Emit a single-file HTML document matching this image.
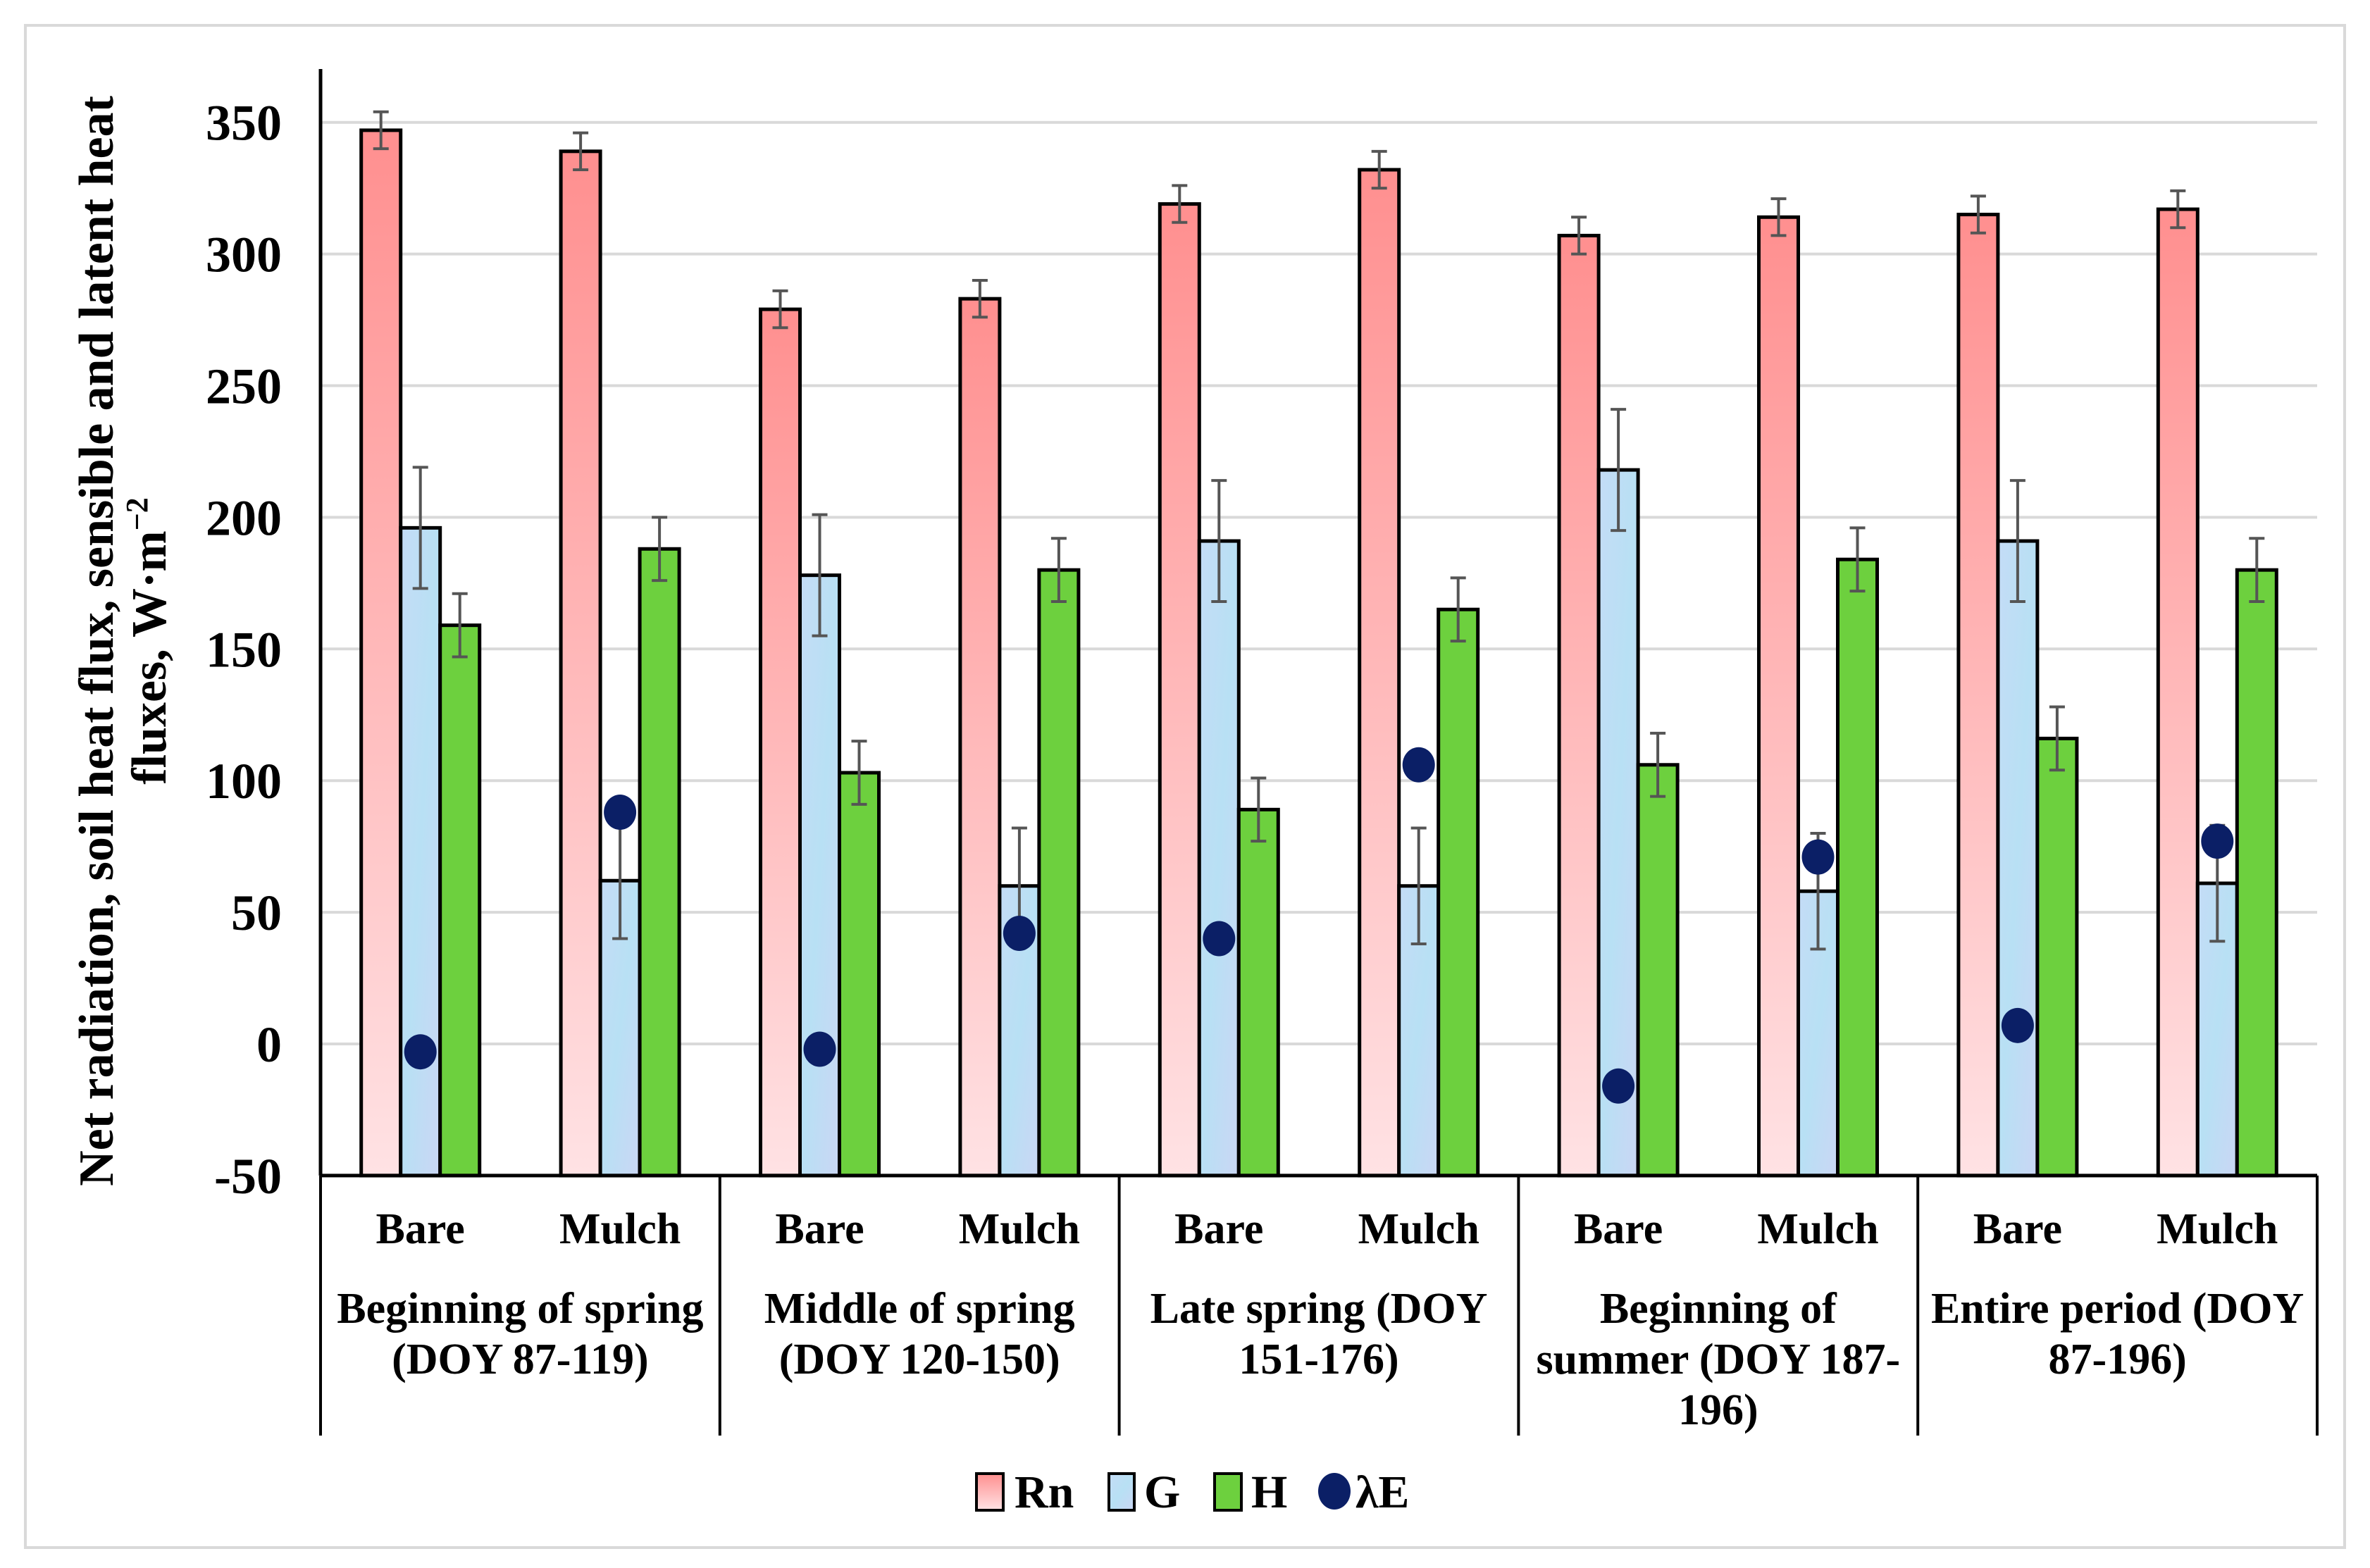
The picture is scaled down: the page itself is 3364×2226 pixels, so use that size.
<!DOCTYPE html>
<html><head><meta charset="utf-8"><style>
html,body{margin:0;padding:0;background:#fff}
svg{display:block}
svg text{font-family:"Liberation Serif","Times New Roman",Times,serif;font-weight:bold;fill:#000}
</style></head><body>
<svg id="chart" width="3364" height="2226" viewBox="0 0 3364 2226" font-family="Liberation Serif, Times New Roman, serif" font-weight="bold">
<defs>
<linearGradient id="rnGrad" x1="0" y1="0" x2="0" y2="1"><stop offset="0" stop-color="#ff8f8f"/><stop offset="1" stop-color="#ffe2e4"/></linearGradient>
<linearGradient id="gGrad" x1="0" y1="0" x2="1" y2="1"><stop offset="0" stop-color="#c4dcf6"/><stop offset="0.5" stop-color="#b8e0f4"/><stop offset="1" stop-color="#cad6f4"/></linearGradient>
</defs>
<rect x="36" y="36" width="3292" height="2161" fill="#fff" stroke="#d9d9d9" stroke-width="4"/>
<g id="grid"></g>
<g id="bars"></g>
<g id="axes"></g>
<text transform="translate(160,910) rotate(-90)" text-anchor="middle" font-size="70">Net radiation, soil heat flux, sensible and latent heat</text>
<text transform="translate(235,910) rotate(-90)" text-anchor="middle" font-size="70">fluxes, W·m<tspan dy="-26" font-size="44">−2</tspan></text>
<g>
<rect x="1386" y="2092" width="38" height="52" fill="url(#rnGrad)" stroke="#000" stroke-width="4"/>
<text x="1440" y="2140" font-size="66">Rn</text>
<rect x="1574" y="2092" width="36" height="52" fill="url(#gGrad)" stroke="#000" stroke-width="4"/>
<text x="1624" y="2140" font-size="66">G</text>
<rect x="1724" y="2092" width="38" height="52" fill="#6dd03e" stroke="#000" stroke-width="4"/>
<text x="1776" y="2140" font-size="66">H</text>
<ellipse cx="1894" cy="2117" rx="23" ry="26" fill="#0b1f66"/>
<text x="1924" y="2140" font-size="66">λE</text>
</g>
</svg>
<script>
const periods = [["Beginning of spring","(DOY 87-119)"],["Middle of spring","(DOY 120-150)"],["Late spring  (DOY","151-176)"],["Beginning of","summer (DOY 187-","196)"],["Entire period  (DOY","87-196)"]];
const treatments = ["Bare","Mulch"];
const rnValues = [347,339,279,283,319,332,307,314,315,317];
const rnErr = [7,7,7,7,7,7,7,7,7,7];
const gValues = [196,62,178,60,191,60,218,58,191,61];
const gErr = [23,22,23,22,23,22,23,22,23,22];
const hValues = [159,188,103,180,89,165,106,184,116,180];
const hErr = [12,12,12,12,12,12,12,12,12,12];
const leValues = [-3,88,-2,42,40,106,-16,71,7,77];
const yTicks = [-50,0,50,100,150,200,250,300,350];

const NS="http://www.w3.org/2000/svg";
const X0=455, X1=3289, YTOP=174, Y0=1482, STEP=186.9;
function y(v){return Y0-(v/50)*STEP;}
const groupW=(X1-X0)/periods.length;
function xc(i){const g=Math.floor(i/2), t=i%2; return X0+g*groupW+groupW*(t===0?0.25:0.75);}
const BW=56;
function mk(tag,attrs,parent){const e=document.createElementNS(NS,tag);for(const k in attrs)e.setAttribute(k,attrs[k]);parent.appendChild(e);return e;}
const grid=document.getElementById('grid'), bars=document.getElementById('bars'), axes=document.getElementById('axes');
yTicks.forEach(v=>{
  if(v>-50){const l=mk('line',{x1:X0,x2:X1,y1:y(v),y2:y(v),stroke:'#d9d9d9','stroke-width':4},grid);
  
  }
  const t=mk('text',{x:400,y:y(v)+25,'text-anchor':'end','font-size':72},grid);
  t.textContent=v;
  
  
});
function errBar(cx,top,e,name){
  const g=mk('g',{stroke:'#555','stroke-width':4},bars);
  
  
  mk('line',{x1:cx,x2:cx,y1:y(top+e),y2:y(top-e)},g);
  mk('line',{x1:cx-11,x2:cx+11,y1:y(top+e),y2:y(top+e)},g);
  mk('line',{x1:cx-11,x2:cx+11,y1:y(top-e),y2:y(top-e)},g);
}
const base=y(-50);
for(let i=0;i<rnValues.length;i++){
  const c=xc(i);
  const series=[[rnValues[i],rnErr[i],'url(#rnGrad)','bar-rn'],[gValues[i],gErr[i],'url(#gGrad)','bar-g'],[hValues[i],hErr[i],'#6dd03e','bar-h']];
  series.forEach((s,k)=>{
    const bx=c-1.5*BW+k*BW;
    const r=mk('rect',{x:bx,y:y(s[0]),width:BW,height:base-y(s[0]),fill:s[2],stroke:'#000','stroke-width':5},bars);
    
    
  });
  series.forEach((s,k)=>{errBar(c-1.5*BW+k*BW+BW/2,s[0],s[1],s[3]+'-error');});
  const d=mk('ellipse',{cx:c,cy:y(leValues[i]),rx:23,ry:25,fill:'#0b1f66'},bars);
  
  
  const tl=mk('text',{x:c,y:1765,'text-anchor':'middle','font-size':62},axes);
  tl.textContent=treatments[i%2];
  
  
}
let a=mk('line',{x1:X0,x2:X0,y1:98,y2:base,stroke:'#000','stroke-width':5},axes);


a=mk('line',{x1:X0,x2:X1,y1:base,y2:base,stroke:'#000','stroke-width':5},axes);


for(let g=0;g<=periods.length;g++){
  const sx=X0+g*groupW;
  const l=mk('line',{x1:sx,x2:sx,y1:base,y2:2038,stroke:'#000','stroke-width':4},axes);
  
  
}
periods.forEach((p,g)=>{
  const t=mk('text',{x:X0+g*groupW+groupW/2,y:1878,'text-anchor':'middle','font-size':62},axes);
  
  
  p.forEach((line,j)=>{const ts=mk('tspan',{x:X0+g*groupW+groupW/2,dy:j?72:0},t);ts.textContent=line;});
});
</script>
</body></html>
